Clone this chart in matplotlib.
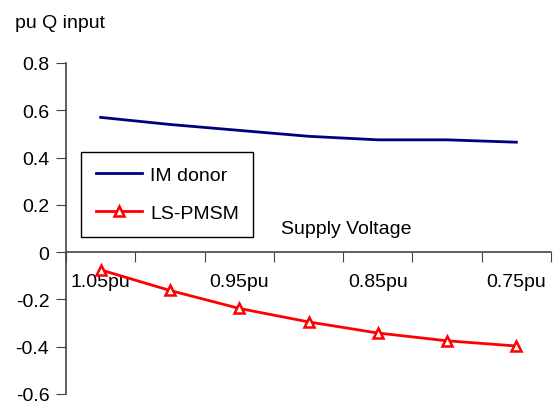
import matplotlib
matplotlib.use("Agg")
import matplotlib.pyplot as plt
from matplotlib.ticker import FixedLocator, NullFormatter, FixedFormatter

plt.rcParams['font.family'] = ['Liberation Sans', 'DejaVu Sans']

# supply voltage steps (categories) and reactive power inputs
voltages = ['1.05pu', '1.00pu', '0.95pu', '0.90pu', '0.85pu', '0.80pu', '0.75pu']
shown_labels = ['1.05pu', '', '0.95pu', '', '0.85pu', '', '0.75pu']
im_donor = [0.57, 0.54, 0.515, 0.49, 0.475, 0.475, 0.465]
ls_pmsm = [-0.075, -0.162, -0.238, -0.295, -0.342, -0.375, -0.397]

fs = 14

fig = plt.figure(figsize=(5.53, 4.02), dpi=100)
ax = fig.add_axes([66 / 553, 1 - 395 / 402, (551 - 66) / 553, (395 - 64) / 402])

x = range(len(voltages))
ax.plot(x, im_donor, color='#000080', lw=2, label='IM donor')
ax.plot(x, ls_pmsm, color='#FF0000', lw=2, marker='^', markersize=7,
        markerfacecolor='white', markeredgecolor='#FF0000', markeredgewidth=1.8,
        label='LS-PMSM')

ax.set_xlim(-0.5, len(voltages) - 0.5)
ax.set_ylim(-0.6, 0.8)
ax.set_yticks([-0.6, -0.4, -0.2, 0, 0.2, 0.4, 0.6, 0.8])
ax.set_yticklabels(['-0.6', '-0.4', '-0.2', '0', '0.2', '0.4', '0.6', '0.8'])

# category boundaries get the tick marks, centres get the labels
ax.xaxis.set_major_locator(FixedLocator([i - 0.5 for i in range(len(voltages) + 1)]))
ax.xaxis.set_major_formatter(NullFormatter())
ax.xaxis.set_minor_locator(FixedLocator(list(x)))
ax.xaxis.set_minor_formatter(FixedFormatter(shown_labels))
ax.tick_params(axis='x', which='minor', length=0, pad=15, labelsize=fs)
ax.tick_params(axis='x', which='major', length=7, direction='out', color='#444444')
ax.tick_params(axis='y', length=7, direction='out', pad=5, labelsize=fs, color='#444444')

for s in ['top', 'right']:
    ax.spines[s].set_visible(False)
ax.spines['bottom'].set_position(('data', 0))
ax.spines['bottom'].set_color('#444444')
ax.spines['left'].set_color('#444444')
ax.spines['bottom'].set_linewidth(1.2)
ax.spines['left'].set_linewidth(1.2)

fig.text(15 / 553, 1 - 23 / 402, 'pu Q input', fontsize=fs, va='center', ha='left')
fig.text(346 / 553, 1 - 230 / 402, 'Supply Voltage', fontsize=fs, va='center', ha='center')

leg = ax.legend(loc='upper left', bbox_to_anchor=(81 / 553, 1 - 153 / 402),
                bbox_transform=fig.transFigure, fontsize=fs, frameon=True,
                fancybox=False, edgecolor='black', framealpha=1,
                borderaxespad=0, handlelength=2.4, handletextpad=0.4,
                borderpad=0.75, labelspacing=1.05)
leg.get_frame().set_linewidth(1.0)

fig.savefig('out.png', dpi=100)
